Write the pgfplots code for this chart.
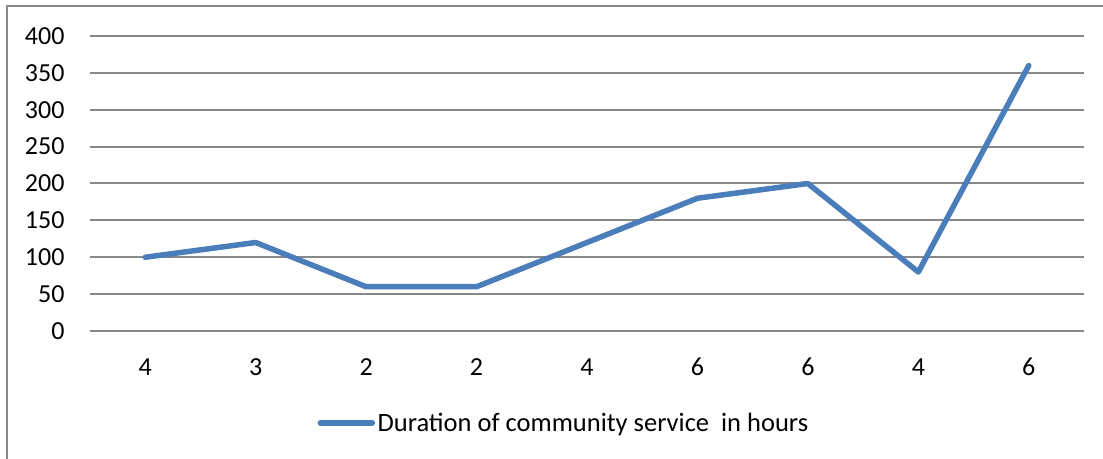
\documentclass[border=0pt]{standalone}
\usepackage{pgfplots}
\pgfplotsset{compat=1.18}
\usepackage{fontspec}
\setmainfont{Carlito}
\definecolor{serblue}{HTML}{4A7EBB}
\definecolor{gridgray}{HTML}{888888}
\begin{document}
\begin{tikzpicture}
\path[use as bounding box] (0bp,0bp) rectangle (1103bp,459bp);
\draw[gridgray, line width=2.5bp] (7bp,0bp) -- (7bp,453bp) -- (1103bp,453bp);
\begin{axis}[
  at={(90bp,128bp)}, anchor=south west,
  scale only axis, width=994bp, height=295bp,
  xmin=-0.5, xmax=8.5, ymin=0, ymax=400,
  xtick={0,...,8}, xticklabels={4,3,2,2,4,6,6,4,6},
  ytick={0,50,...,400},
  ymajorgrids, grid style={gridgray, line width=2bp},
  axis line style={draw=none},
  major tick length=0pt,
  tick label style={font=\fontsize{26bp}{30bp}\selectfont},
  /pgf/number format/assume math mode=true,
  yticklabel style={anchor=east, xshift=-22bp},
  xticklabel style={anchor=center, yshift=-36bp},
  legend style={at={(0.477,-0.312)}, anchor=center, draw=none, fill=none,
    font=\fontsize{26.5bp}{30bp}\selectfont, inner sep=0pt,
    nodes={inner sep=2.5bp}},
  legend image code/.code={\draw[#1, line cap=round] (0bp,0bp) -- (52bp,0bp);},
  legend cell align=left,
]
\addplot[serblue, line width=5.5bp, line join=round, line cap=round] coordinates {
(0,100) (1,120) (2,60) (3,60) (4,120) (5,180) (6,200) (7,80) (8,360)
};
\addlegendentry{Duration of community service\ \ in hours}
\end{axis}
\end{tikzpicture}
\end{document}
